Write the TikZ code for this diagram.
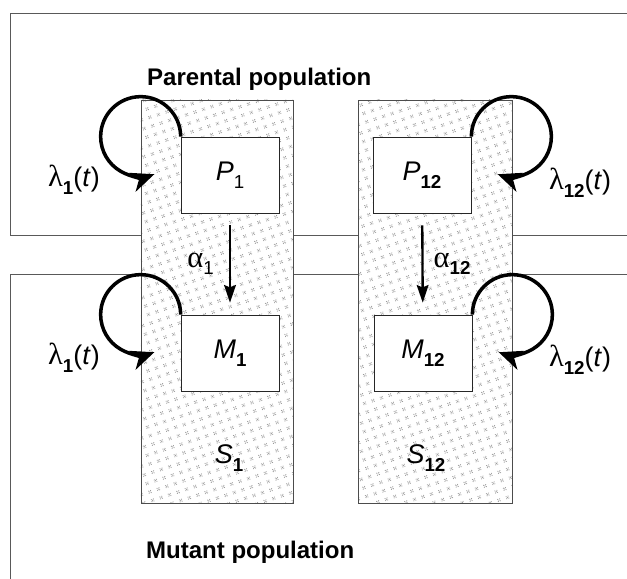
\documentclass[tikz,border=0pt]{standalone}
\usepackage{fontspec}
\setmainfont{Liberation Sans}
\newfontfamily\greekfont{Liberation Serif}
\usetikzlibrary{arrows.meta,positioning,patterns.meta}

% speckled grey fill of the two strips
\tikzdeclarepattern{
  name=flecks,
  type=uncolored,
  bounding box={(-3.8pt,-3.8pt) and (3.8pt,3.8pt)},
  tile size={(7.6pt,7.6pt)},
  tile transformation={rotate=18},
  code={
    \fill (0pt,0pt) circle (0.55pt);
    \fill (0.9pt,0.9pt) circle (0.5pt);
    \fill (-0.9pt,0.9pt) circle (0.5pt);
    \fill (0.9pt,-0.9pt) circle (0.5pt);
    \fill (-0.9pt,-0.9pt) circle (0.5pt);
  }
}

\newcommand{\lowsub}[1]{\raisebox{-0.28em}{\fontsize{16}{16}\selectfont #1}}
\newcommand{\greeksym}[1]{{\greekfont\fontsize{26}{26}\selectfont #1}}

\tikzset{
  frame/.style={draw=black!65, line width=0.6pt},
  stripbox/.style={draw=black!70, line width=0.5pt, inner sep=0pt,
    preaction={fill=white}, pattern=flecks, pattern color=black!40},
  compart/.style={draw=black!85, fill=white, line width=0.6pt, inner sep=0pt,
    minimum width=2.94cm, minimum height=2.28cm,
    font=\fontsize{23}{26}\selectfont},
  heading/.style={font=\fontsize{20.5}{24}\selectfont\bfseries},
  ratelab/.style={font=\fontsize{23}{26}\selectfont, inner sep=0pt},
  selfloop/.style={line width=3pt, -{Stealth[length=20pt,width=17pt,inset=6pt]}},
  rate/.style={line width=2pt, -{Stealth[length=15pt,width=10pt,inset=2pt]},
    shorten <=0.36cm, shorten >=0.36cm}
}

\begin{document}
\begin{tikzpicture}[x=0.03cm, y=0.03cm]
  \useasboundingbox (0,0) rectangle (627,578);

  % population frames
  \draw[frame] (627,565) -- (10,565) -- (10,343) -- (627,343);
  \draw[frame] (627,304) -- (10,304) -- (10,-5);

  % strains
  \node[stripbox, minimum width=4.56cm, minimum height=12.09cm] (s1) at (217,276.5) {};
  \node[stripbox, minimum width=4.62cm, minimum height=12.09cm] (s12) at (435,276.5) {};
  \node[ratelab] (s1lab) at (229,120) {\textit{S}\lowsub{\textbf{1}}};
  \node[ratelab] (s12lab) at (426,120) {\textit{S}\lowsub{\textbf{12}}};

  % headings
  \node[heading, anchor=base west] (parental) at (143,492) {Parental population};
  \node[heading, anchor=base west] (mutant) at (142,20) {Mutant population};

  % compartments
  \node[compart] (p1) at (230,403) {\textit{P}\lowsub{1}};
  \node[compart] (p12) at (422,403) {\textit{P}\lowsub{\textbf{12}}};
  \node[compart] (m1) at (230,225) {\textit{M}\lowsub{\textbf{1}}};
  \node[compart] (m12) at (423,225) {\textit{M}\lowsub{\textbf{12}}};

  % mutation
  \draw[rate] (p1) -- (m1) node[ratelab, midway, left=0.45cm] (a1) {\greeksym{α}\lowsub{1}};
  \draw[rate] (p12) -- (m12) node[ratelab, midway, right=0.3cm] (a12) {\greeksym{α}\lowsub{\textbf{12}}};

  % growth loops
  \draw[selfloop] (p1.north west) arc[start angle=0, end angle=290, radius=40];
  \draw[selfloop] (m1.north west) arc[start angle=0, end angle=290, radius=40];
  \draw[selfloop] (p12.north east) arc[start angle=180, end angle=-110, radius=40];
  \draw[selfloop] (m12.north east) arc[start angle=180, end angle=-110, radius=40];

  \node[ratelab] (l1p) at (74,398) {\greeksym{λ}\lowsub{\textbf{1}}(\textit{t})};
  \node[ratelab] (l1m) at (74,220) {\greeksym{λ}\lowsub{\textbf{1}}(\textit{t})};
  \node[ratelab] (l12p) at (580,395) {\greeksym{λ}\lowsub{\textbf{12}}(\textit{t})};
  \node[ratelab] (l12m) at (580,218) {\greeksym{λ}\lowsub{\textbf{12}}(\textit{t})};
\end{tikzpicture}
\end{document}
